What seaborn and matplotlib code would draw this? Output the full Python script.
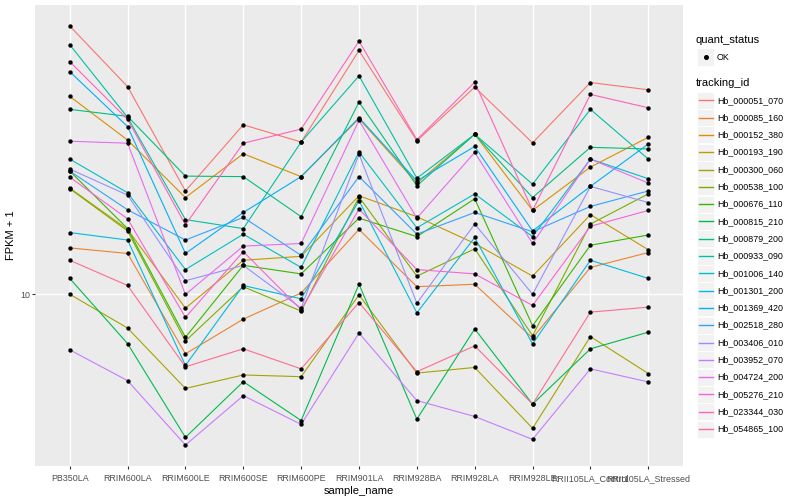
import numpy as np
import pandas as pd
import matplotlib
matplotlib.use("Agg")
import matplotlib.pyplot as plt
import seaborn as sns
from matplotlib.patches import Rectangle
from matplotlib.lines import Line2D

# x categories
samples = ["PB350LA", "RRIM600LA", "RRIM600LE", "RRIM600SE", "RRIM600PE",
           "RRIM901LA", "RRIM928BA", "RRIM928LA", "RRIM928LE",
           "RRII105LA_Control", "RRII105LA_Stressed"]

tracking_ids = ["Hb_000051_070", "Hb_000085_160", "Hb_000152_380", "Hb_000193_190",
                "Hb_000300_060", "Hb_000538_100", "Hb_000676_110", "Hb_000815_210",
                "Hb_000879_200", "Hb_000933_090", "Hb_001006_140", "Hb_001301_200",
                "Hb_001369_420", "Hb_002518_280", "Hb_003406_010", "Hb_003952_070",
                "Hb_004724_200", "Hb_005276_210", "Hb_023344_030", "Hb_054865_100"]

# ggplot default hue palette for 20 levels
hue_colors = ["#F8766D", "#EA8331", "#D89000", "#C09B00", "#A3A500", "#7CAE00",
              "#39B600", "#00BB4E", "#00BF7D", "#00C1A3", "#00BFC4", "#00BAE0",
              "#00B0F6", "#35A2FF", "#9590FF", "#C77CFF", "#E76BF3", "#FA62DB",
              "#FF62BC", "#FF6C91"]

# FPKM + 1 per gene (one value per sample)
hb_000051_070 = [79.4, 49.7, 22.2, 37.0, 32.4, 65.7, 32.7, 49.5, 32.2, 51.3, 48.5]
hb_000085_160 = [14.3, 13.7, 6.31, 8.25, 10.1, 16.5, 10.6, 10.8, 7.13, 12.3, 13.8]
hb_000152_380 = [46.1, 32.9, 21.1, 29.6, 24.8, 38.8, 23.6, 34.4, 19.1, 26.7, 33.6]
hb_000193_190 = [22.7, 16.5, 8.98, 13.0, 13.4, 21.4, 18.2, 14.8, 11.5, 18.5, 14.1]
hb_000300_060 = [10.0, 7.70, 4.83, 5.36, 5.29, 9.95, 5.44, 5.68, 3.55, 7.21, 5.42]
hb_000538_100 = [22.6, 16.3, 6.97, 10.6, 8.78, 21.2, 11.5, 14.2, 7.26, 17.2, 21.7]
hb_000676_110 = [25.9, 16.6, 7.17, 12.5, 11.7, 18.0, 15.6, 20.9, 7.84, 14.6, 15.8]
hb_000815_210 = [11.3, 6.83, 3.31, 5.09, 3.77, 10.8, 3.81, 7.65, 4.28, 6.56, 7.46]
hb_000879_200 = [41.7, 39.5, 24.9, 24.8, 18.2, 44.1, 23.1, 34.4, 21.1, 31.1, 30.7]
hb_000933_090 = [68.7, 39.2, 17.8, 16.6, 32.4, 54.0, 24.5, 34.4, 23.4, 41.7, 28.4]
hb_001006_140 = [28.4, 21.9, 12.1, 15.9, 12.3, 30.0, 16.7, 21.7, 15.6, 28.4, 24.4]
hb_001301_200 = [16.1, 15.2, 5.77, 10.7, 9.65, 20.6, 8.66, 15.5, 6.81, 13.0, 11.3]
hb_001369_420 = [55.8, 36.5, 13.7, 18.8, 24.8, 39.1, 24.0, 31.3, 16.3, 23.0, 31.9]
hb_002518_280 = [25.9, 19.2, 15.2, 18.1, 13.5, 24.8, 15.9, 18.8, 16.2, 19.7, 22.2]
hb_003406_010 = [26.3, 21.5, 11.1, 12.5, 8.98, 29.5, 9.33, 17.2, 10.0, 23.0, 20.3]
hb_003952_070 = [6.51, 5.13, 3.12, 4.57, 3.66, 7.41, 4.40, 3.89, 3.26, 5.62, 5.08]
hb_004724_200 = [32.6, 32.1, 9.98, 14.5, 14.8, 38.3, 18.0, 29.9, 14.8, 28.4, 23.6]
hb_005276_210 = [24.7, 17.9, 8.36, 13.9, 8.87, 19.3, 12.1, 11.7, 9.17, 16.9, 19.1]
hb_023344_030 = [60.3, 38.6, 17.1, 32.1, 35.8, 70.6, 33.0, 51.4, 19.1, 46.8, 42.2]
hb_054865_100 = [13.0, 10.7, 5.71, 6.56, 5.62, 9.38, 5.50, 6.71, 4.28, 8.71, 9.05]

series = [hb_000051_070, hb_000085_160, hb_000152_380, hb_000193_190, hb_000300_060,
          hb_000538_100, hb_000676_110, hb_000815_210, hb_000879_200, hb_000933_090,
          hb_001006_140, hb_001301_200, hb_001369_420, hb_002518_280, hb_003406_010,
          hb_003952_070, hb_004724_200, hb_005276_210, hb_023344_030, hb_054865_100]

rows = []
for tid, vals in zip(tracking_ids, series):
    for s, v in zip(samples, vals):
        rows.append({"sample_name": s, "tracking_id": tid, "fpkm": v, "quant_status": "OK"})
df = pd.DataFrame(rows)

plt.rcParams["font.family"] = ["Liberation Sans", "DejaVu Sans"]

W, H = 800, 500
fig = plt.figure(figsize=(8, 5), dpi=100)
# panel in pixels: left 35, right 683, top 5, bottom 466
ax = fig.add_axes([35 / W, 1 - 466 / H, (683 - 35) / W, (466 - 5) / H])
ax.set_facecolor("#EBEBEB")

palette = dict(zip(tracking_ids, hue_colors))
sns.lineplot(data=df, x="sample_name", y="fpkm", hue="tracking_id", palette=palette,
             sort=False, linewidth=0.8, legend=False, ax=ax, zorder=2)
sns.scatterplot(data=df, x="sample_name", y="fpkm", color="black", s=10,
                linewidth=0, legend=False, ax=ax, zorder=3)

ax.set_yscale("log")
lo, hi = np.log10(df["fpkm"].min()), np.log10(df["fpkm"].max())
pad = (hi - lo) * 0.05
ax.set_ylim(10 ** (lo - pad), 10 ** (hi + pad))
ax.set_xlim(-0.6, len(samples) - 0.4)
ax.set_yticks([10])
ax.set_yticklabels(["10"])
ax.yaxis.set_minor_locator(matplotlib.ticker.NullLocator())

ax.grid(True, which="major", color="white", linewidth=1.0)
ax.set_axisbelow(True)
for sp in ax.spines.values():
    sp.set_visible(False)
ax.tick_params(axis="both", length=2.2, width=0.8, color="#333333",
               labelcolor="#4D4D4D", labelsize=6.4, pad=1.5)
ax.tick_params(axis="x", pad=3.5)

ax.set_xlabel("sample_name", fontsize=8, labelpad=2.5)
ax.set_ylabel("FPKM + 1", fontsize=8, labelpad=3)

# legend drawn ggplot style on the right
def fx(px):
    return px / W

def fy(py):
    return 1 - py / H

key_w, key_h = 17, 17
key_x = 697
fig.text(fx(696), fy(40), "quant_status", fontsize=8, va="center", ha="left")
fig.patches.append(Rectangle((fx(key_x), fy(57 + key_h / 2)), key_w / W, key_h / H,
                             transform=fig.transFigure, facecolor="#F2F2F2",
                             edgecolor="white", linewidth=0.6))
fig.lines.append(Line2D([fx(key_x + key_w / 2)], [fy(57)], marker="o", markersize=2.6,
                        color="black", linestyle="none", transform=fig.transFigure))
fig.text(fx(717), fy(57), "OK", fontsize=6.4, va="center", ha="left")

fig.text(fx(696), fy(83), "tracking_id", fontsize=8, va="center", ha="left")
y0, step = 100.3, 17.3
for i, (tid, col) in enumerate(zip(tracking_ids, hue_colors)):
    yc = y0 + i * step
    fig.patches.append(Rectangle((fx(key_x), fy(yc + key_h / 2)), key_w / W, key_h / H,
                                 transform=fig.transFigure, facecolor="#F2F2F2",
                                 edgecolor="white", linewidth=0.6))
    fig.lines.append(Line2D([fx(key_x + 1.5), fx(key_x + key_w - 1.5)], [fy(yc), fy(yc)],
                            color=col, linewidth=1.0, transform=fig.transFigure))
    fig.text(fx(717), fy(yc), tid, fontsize=6.4, va="center", ha="left")

fig.savefig("out.png", dpi=100, facecolor="white")
